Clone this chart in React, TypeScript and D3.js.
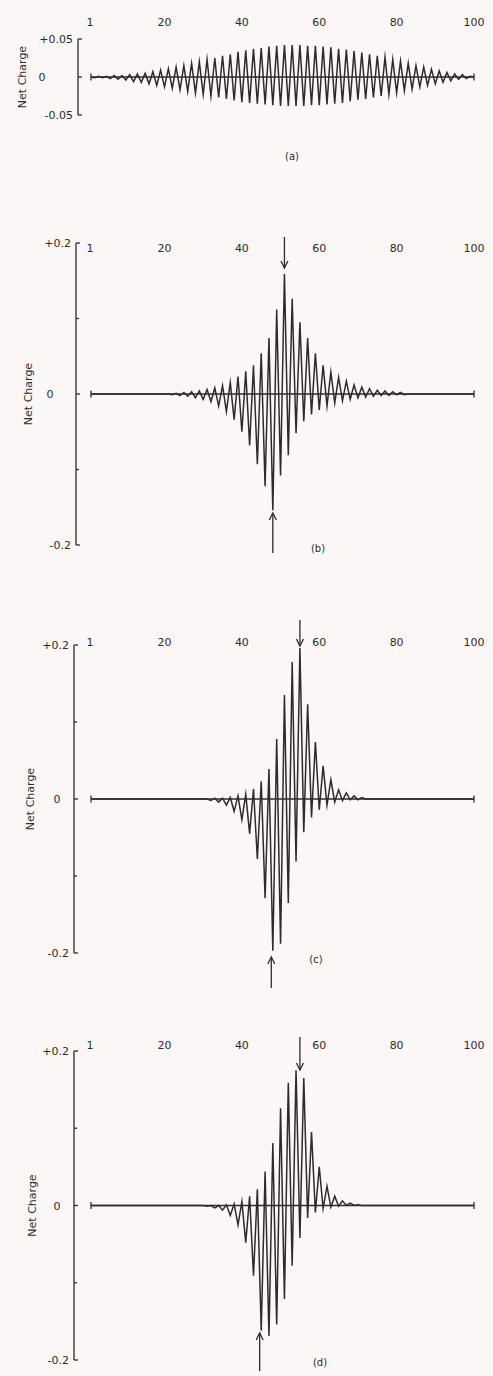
import React from 'react';
import * as d3 from 'd3';

// ---------- data ----------
const SITES = d3.range(1, 101);
const X_TICKS = [1, 20, 40, 60, 80, 100];
const Y_LABELS_A = ['+0.05', '0', '-0.05'];
const Y_LABELS_BCD = ['+0.2', '0', '-0.2'];
const Y_MAX = [0.05, 0.2, 0.2, 0.2];
const PANEL_NAMES = ['(a)', '(b)', '(c)', '(d)'];
const ARROW_DOWN_SITES = [null, 51, 55, 55];
const ARROW_UP_SITES = [null, 48, 47.6, 44.6];

const chargeA = [
  0.000, -0.001, 0.001, -0.001, 0.001, -0.002, 0.002, -0.003, 0.002, -0.004,
  0.003, -0.006, 0.004, -0.007, 0.005, -0.009, 0.007, -0.011, 0.009, -0.013,
  0.011, -0.015, 0.013, -0.017, 0.015, -0.019, 0.018, -0.021, 0.020, -0.023,
  0.023, -0.025, 0.025, -0.027, 0.028, -0.029, 0.030, -0.031, 0.033, -0.033,
  0.035, -0.034, 0.037, -0.035, 0.038, -0.036, 0.040, -0.037, 0.041, -0.038,
  0.042, -0.038, 0.042, -0.038, 0.042, -0.038, 0.041, -0.037, 0.041, -0.037,
  0.040, -0.036, 0.039, -0.035, 0.037, -0.034, 0.036, -0.032, 0.034, -0.030,
  0.032, -0.029, 0.030, -0.027, 0.028, -0.025, 0.026, -0.023, 0.023, -0.021,
  0.021, -0.018, 0.018, -0.016, 0.015, -0.013, 0.013, -0.011, 0.010, -0.009,
  0.008, -0.007, 0.006, -0.005, 0.004, -0.003, 0.003, -0.002, 0.001, 0.000,
];

const chargeB = [
  0, 0, 0, 0, 0, 0, 0, 0, 0, 0,
  0, 0, 0, 0, 0, 0, 0, 0, 0, 0,
  0.000, -0.001, 0.001, -0.002, 0.002, -0.003, 0.003, -0.005, 0.004, -0.007,
  0.006, -0.010, 0.008, -0.016, 0.011, -0.023, 0.015, -0.034, 0.023, -0.050,
  0.030, -0.068, 0.038, -0.093, 0.054, -0.122, 0.074, -0.154, 0.112, -0.108,
  0.159, -0.081, 0.126, -0.052, 0.095, -0.036, 0.074, -0.027, 0.054, -0.021,
  0.038, -0.016, 0.029, -0.012, 0.022, -0.009, 0.017, -0.007, 0.012, -0.005,
  0.009, -0.004, 0.007, -0.003, 0.005, -0.002, 0.004, -0.002, 0.003, -0.001,
  0.002, -0.001, 0.000, 0, 0, 0, 0, 0, 0, 0,
  0, 0, 0, 0, 0, 0, 0, 0, 0, 0,
];

const chargeC = [
  0, 0, 0, 0, 0, 0, 0, 0, 0, 0,
  0, 0, 0, 0, 0, 0, 0, 0, 0, 0,
  0, 0, 0, 0, 0, 0, 0, 0, 0, 0,
  0.000, -0.002, 0.001, -0.004, 0.001, -0.008, 0.002, -0.016, 0.004, -0.027,
  0.006, -0.045, 0.013, -0.078, 0.023, -0.129, 0.039, -0.197, 0.078, -0.188,
  0.135, -0.135, 0.178, -0.081, 0.196, -0.043, 0.123, -0.024, 0.074, -0.014,
  0.043, -0.008, 0.025, -0.004, 0.012, -0.002, 0.008, -0.001, 0.004, -0.001,
  0.002, 0.000, 0, 0, 0, 0, 0, 0, 0, 0,
  0, 0, 0, 0, 0, 0, 0, 0, 0, 0,
  0, 0, 0, 0, 0, 0, 0, 0, 0, 0,
];

const chargeD = [
  0, 0, 0, 0, 0, 0, 0, 0, 0, 0,
  0, 0, 0, 0, 0, 0, 0, 0, 0, 0,
  0, 0, 0, 0, 0, 0, 0, 0, 0, 0,
  -0.001, 0.000, -0.003, 0.000, -0.006, 0.001, -0.013, 0.002, -0.025, 0.005,
  -0.048, 0.012, -0.091, 0.021, -0.162, 0.044, -0.169, 0.081, -0.154, 0.126,
  -0.121, 0.159, -0.078, 0.175, -0.042, 0.165, -0.016, 0.095, -0.009, 0.050,
  -0.004, 0.025, -0.002, 0.012, -0.001, 0.006, 0.000, 0.003, 0.000, 0.001,
  0, 0, 0, 0, 0, 0, 0, 0, 0, 0,
  0, 0, 0, 0, 0, 0, 0, 0, 0, 0,
  0, 0, 0, 0, 0, 0, 0, 0, 0, 0,
];

const SERIES = [chargeA, chargeB, chargeC, chargeD];

// ---------- layout (positions / styles only) ----------
const W = 493;
const H = 1376;
const BG = '#faf7f6';
const INK = '#2f2b2b';
const FONT = '"DejaVu Sans", sans-serif';

const LAYOUT = [
  { axisX: 78, top: 39, bottom: 115, xLabelY: 26, minor: false, zeroX: 42, name: [292, 160], ylab: 22, down: null, up: null },
  { axisX: 76, top: 243, bottom: 545, xLabelY: 252, minor: true, zeroX: 50, name: [318, 552], ylab: 28, down: [237, 268], up: [513, 553] },
  { axisX: 74, top: 645, bottom: 953, xLabelY: 646, minor: true, zeroX: 57, name: [316, 963], ylab: 30, down: [620, 646], up: [957, 988] },
  { axisX: 74, top: 1051, bottom: 1360, xLabelY: 1049, minor: true, zeroX: 57, name: [320, 1366], ylab: 32, down: [1037, 1070], up: [1333, 1371] },
];

const xScale = d3.scaleLinear().domain([1, 100]).range([91, 474]);

function Arrow({ x, y1, y2, dir }: { x: number; y1: number; y2: number; dir: 'down' | 'up' }) {
  const tip = dir === 'down' ? y2 : y1;
  const s = dir === 'down' ? -1 : 1;
  return (
    <g stroke={INK} strokeWidth={1.3} fill="none">
      <line x1={x} x2={x} y1={y1} y2={y2} />
      <path d={`M${x - 3.5},${tip + s * 7} L${x},${tip} L${x + 3.5},${tip + s * 7}`} />
    </g>
  );
}

function Panel({ idx }: { idx: number }) {
  const L = LAYOUT[idx];
  const data = SERIES[idx];
  const yMax = Y_MAX[idx];
  const y = d3.scaleLinear().domain([-yMax, yMax]).range([L.bottom, L.top]);
  const y0 = y(0);
  const labels = idx === 0 ? Y_LABELS_A : Y_LABELS_BCD;
  const yVals = [yMax, 0, -yMax];
  const line = d3
    .line<number>()
    .x((_, i) => xScale(SITES[i]))
    .y((d) => y(d));
  const x1 = xScale(1);
  const x100 = xScale(100);
  const downSite = ARROW_DOWN_SITES[idx];
  const upSite = ARROW_UP_SITES[idx];
  return (
    <g>
      {/* y axis */}
      <g stroke={INK} strokeWidth={1.3} fill="none">
        <line x1={L.axisX} x2={L.axisX} y1={L.top} y2={L.bottom} />
        <line x1={L.axisX} x2={L.axisX + 4} y1={L.top} y2={L.top} />
        <line x1={L.axisX} x2={L.axisX + 4} y1={L.bottom} y2={L.bottom} />
        <line x1={L.axisX} x2={L.axisX + 4} y1={y0} y2={y0} />
        {L.minor && (
          <>
            <line x1={L.axisX} x2={L.axisX + 3} y1={y(yMax / 2)} y2={y(yMax / 2)} />
            <line x1={L.axisX} x2={L.axisX + 3} y1={y(-yMax / 2)} y2={y(-yMax / 2)} />
          </>
        )}
      </g>
      <g fontFamily={FONT} fontSize={11} fill={INK}>
        {labels.map((t, i) => (
          <text
            key={t}
            x={t === '0' ? L.zeroX : L.axisX - 5}
            y={y(yVals[i]) + 4}
            textAnchor={t === '0' ? 'middle' : 'end'}
          >
            {t}
          </text>
        ))}
        {X_TICKS.map((t) => (
          <text key={t} x={xScale(t) + (t === 1 ? -1 : 0)} y={L.xLabelY} textAnchor="middle">
            {t}
          </text>
        ))}
        <text
          transform={`translate(${L.ylab + 4},${y0}) rotate(-90)`}
          textAnchor="middle"
        >
          Net Charge
        </text>
        <text x={L.name[0]} y={L.name[1]} fontSize={10} textAnchor="middle">
          {PANEL_NAMES[idx]}
        </text>
      </g>
      {/* zero line with end markers */}
      <g stroke={INK} strokeWidth={1.3}>
        <line x1={x1} x2={x100} y1={y0} y2={y0} />
        <line x1={x1} x2={x1} y1={y0 - 3.5} y2={y0 + 3.5} />
        <line x1={x100} x2={x100} y1={y0 - 3.5} y2={y0 + 3.5} />
      </g>
      <path d={line(data) || ''} fill="none" stroke={INK} strokeWidth={1.5} strokeLinejoin="miter" strokeMiterlimit={10} />
      {downSite != null && L.down && (
        <Arrow x={xScale(downSite)} y1={L.down[0]} y2={L.down[1]} dir="down" />
      )}
      {upSite != null && L.up && <Arrow x={xScale(upSite)} y1={L.up[0]} y2={L.up[1]} dir="up" />}
    </g>
  );
}

export default function App() {
  return (
    <div style={{ position: 'absolute', left: 0, top: 0, width: W, height: H, background: BG }}>
      <svg width={W} height={H} viewBox={`0 0 ${W} ${H}`} style={{ display: 'block' }}>
        <rect width={W} height={H} fill={BG} />
        {SERIES.map((_, i) => (
          <Panel key={i} idx={i} />
        ))}
      </svg>
    </div>
  );
}
